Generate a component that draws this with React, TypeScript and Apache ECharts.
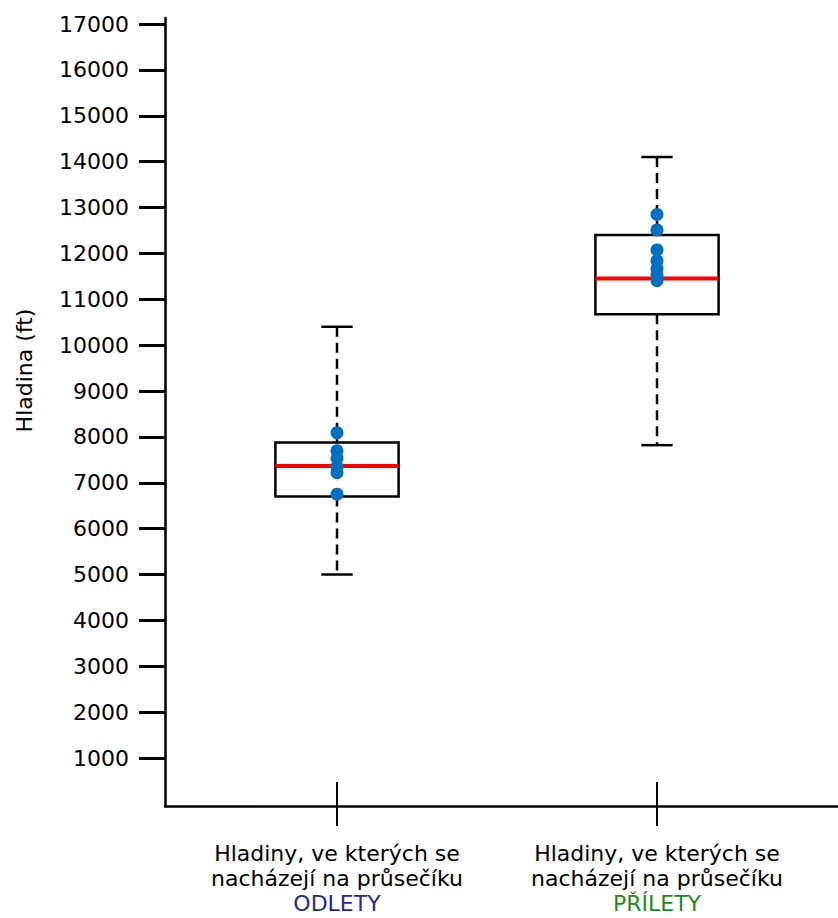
import React, { useEffect, useRef } from 'react';
import * as echarts from 'echarts';

// Data
const categories = ['ODLETY', 'PŘÍLETY'];
const categoryColors = ['#1c2b98', '#1f8a1f'];
const labelPrefix = 'Hladiny, ve kterých se\nnacházejí na průsečíku';
// [min, Q1, median, Q3, max]
const boxStats = [
  [5000, 6700, 7365, 7880, 10400],
  [7820, 10675, 11450, 12400, 14100],
];
const odletyPoints = [8090, 7700, 7535, 7350, 7220, 6750];
const priletyPoints = [12850, 12510, 12075, 11840, 11665, 11530, 11405];
const yMin = 1000;
const yMax = 17000;
const yInterval = 1000;
const yAxisName = 'Hladina (ft)';

const FONT = 'DejaVu Sans';

export default function App() {
  const ref = useRef<HTMLDivElement>(null);

  useEffect(() => {
    document.body.style.margin = '0';
    if (!ref.current) return;
    const chart = echarts.init(ref.current, null, { renderer: 'svg' });

    const boxData = boxStats.map((s, i) => [i, ...s]);
    const scatterData = [
      ...odletyPoints.map((v) => [0, v]),
      ...priletyPoints.map((v) => [1, v]),
    ];

    const xLabelSize = 22;
    const xLineHeight = 25;

    const option: any = {
      animation: false,
      backgroundColor: '#ffffff',
      grid: [
        { left: 177, right: 21, top: 24, bottom: 160 },
        { left: 165, right: 0, top: 18, bottom: 112 },
      ],
      xAxis: [
        {
          gridIndex: 0,
          type: 'category',
          data: categories,
          boundaryGap: true,
          position: 'bottom',
          offset: 48,
          axisLine: { show: false },
          axisTick: {
            show: true,
            alignWithLabel: true,
            length: 20,
            lineStyle: { color: '#000', width: 2 },
          },
          axisLabel: {
            margin: 35,
            interval: 0,
            formatter: (v: string, i: number) =>
              labelPrefix + '\n{c' + i + '|' + v + '}',
            color: '#000',
            fontFamily: FONT,
            fontSize: xLabelSize,
            lineHeight: xLineHeight,
            rich: {
              c0: { color: categoryColors[0], fontFamily: FONT, fontSize: xLabelSize, lineHeight: xLineHeight },
              c1: { color: categoryColors[1], fontFamily: FONT, fontSize: xLabelSize, lineHeight: xLineHeight },
            },
          },
          splitLine: { show: false },
        },
        {
          gridIndex: 0,
          type: 'category',
          data: categories,
          boundaryGap: true,
          position: 'bottom',
          offset: 48,
          axisLine: { show: false },
          axisTick: {
            show: true,
            inside: true,
            alignWithLabel: true,
            length: 24,
            lineStyle: { color: '#000', width: 2 },
          },
          axisLabel: { show: false },
          splitLine: { show: false },
        },
        {
          gridIndex: 1,
          type: 'value',
          min: 0,
          max: 1,
          axisLine: { show: true, onZero: false, lineStyle: { color: '#000', width: 2.5 } },
          axisTick: { show: false },
          axisLabel: { show: false },
          splitLine: { show: false },
        },
      ],
      yAxis: [
        {
          gridIndex: 0,
          type: 'value',
          min: yMin,
          max: yMax,
          interval: yInterval,
          offset: 12,
          axisLine: { show: false },
          axisTick: { show: true, length: 26, lineStyle: { color: '#000', width: 3 } },
          axisLabel: {
            margin: 36,
            color: '#000',
            fontFamily: FONT,
            fontSize: 22,
            formatter: (v: number) => String(v),
          },
          splitLine: { show: false },
          name: yAxisName,
          nameLocation: 'middle',
          nameGap: 130,
          nameTextStyle: {
            color: '#000',
            fontFamily: FONT,
            fontSize: 22,
            padding: [0, 0, 0, 41],
          },
        },
        {
          gridIndex: 1,
          type: 'value',
          min: 0,
          max: 1,
          axisLine: { show: true, onZero: false, lineStyle: { color: '#000', width: 2.5 } },
          axisTick: { show: false },
          axisLabel: { show: false },
          splitLine: { show: false },
        },
      ],
      series: [
        {
          type: 'custom',
          xAxisIndex: 0,
          yAxisIndex: 0,
          encode: { x: 0, y: [1, 2, 3, 4, 5] },
          data: boxData,
          z: 2,
          renderItem: (params: any, api: any) => {
            const idx = api.value(0);
            const pts = [1, 2, 3, 4, 5].map((d) => api.coord([idx, api.value(d)]));
            const [pMin, pQ1, pMed, pQ3, pMax] = pts;
            const cx = pMin[0];
            const band = api.size([1, 0])[0];
            const half = band * 0.1925;
            const capHalf = band * 0.049;
            const dash = { stroke: '#000', lineWidth: 2.5, lineDash: [10, 6], fill: 'none' };
            const solid = { stroke: '#000', lineWidth: 2.5, fill: 'none' };
            return {
              type: 'group',
              children: [
                { type: 'line', shape: { x1: cx, y1: pMax[1], x2: cx, y2: pQ3[1] }, style: dash },
                { type: 'line', shape: { x1: cx, y1: pQ1[1], x2: cx, y2: pMin[1] }, style: dash },
                { type: 'line', shape: { x1: cx - capHalf, y1: pMax[1], x2: cx + capHalf, y2: pMax[1] }, style: solid },
                { type: 'line', shape: { x1: cx - capHalf, y1: pMin[1], x2: cx + capHalf, y2: pMin[1] }, style: solid },
                {
                  type: 'rect',
                  shape: { x: cx - half, y: pQ3[1], width: half * 2, height: pQ1[1] - pQ3[1] },
                  style: { stroke: '#000', lineWidth: 2.5, fill: 'rgba(255,255,255,0)' },
                },
                {
                  type: 'line',
                  shape: { x1: cx - half, y1: pMed[1], x2: cx + half, y2: pMed[1] },
                  style: { stroke: '#ff0000', lineWidth: 4 },
                },
              ],
            };
          },
        },
        {
          type: 'scatter',
          xAxisIndex: 0,
          yAxisIndex: 0,
          data: scatterData,
          symbol: 'circle',
          symbolSize: 13,
          itemStyle: { color: '#0070c0', opacity: 1 },
          z: 5,
        },
      ],
    };

    chart.setOption(option);
    return () => chart.dispose();
  }, []);

  return <div ref={ref} style={{ width: 838, height: 918 }} />;
}
